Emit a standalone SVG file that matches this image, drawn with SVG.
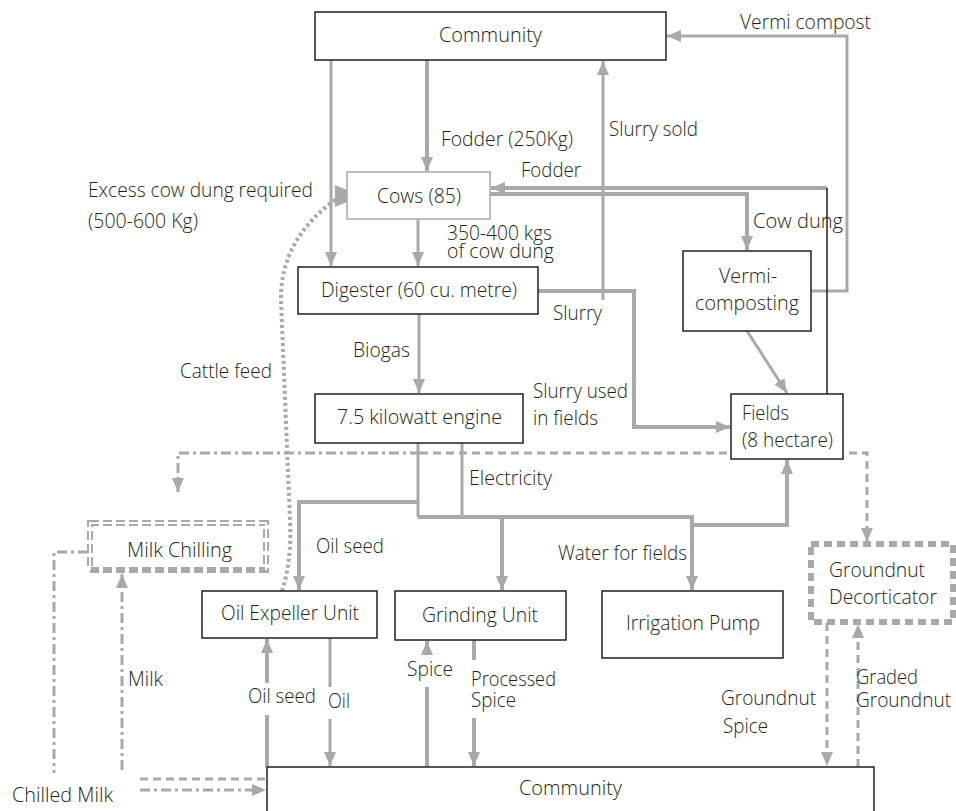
<svg xmlns="http://www.w3.org/2000/svg" width="956" height="811" viewBox="0 0 956 811">
<style>
.t{font-family:"Open Sans","Noto Sans","Liberation Sans",sans-serif;font-size:20px;font-weight:300;fill:#231f20}
.box{fill:#fff;stroke:#231f20;stroke-width:1.5}
.ln{fill:none;stroke:#a7a9ac;stroke-width:3}
.th{stroke-width:4}
.dd{stroke-dasharray:10,4,3,4}
.ds{stroke-dasharray:8,5}
.dt{stroke-dasharray:3,3;stroke-width:4}
</style>
<defs>
<marker id="ah" viewBox="0 0 14 12" refX="14" refY="6" markerWidth="14" markerHeight="12" markerUnits="userSpaceOnUse" orient="auto">
<path d="M0,0 L14,6 L0,12 z" fill="#a7a9ac"/>
</marker>
</defs>
<rect width="956" height="811" fill="#fff"/>
<g id="connectors">
<path class="ln" d="M331,60 V266" marker-end="url(#ah)"/>
<path class="ln th" d="M427,60 V171" marker-end="url(#ah)"/>
<path class="ln" d="M418,219 V266" marker-end="url(#ah)"/>
<path class="ln" d="M603,300 V61" marker-end="url(#ah)"/>
<path class="ln" d="M811,291 H847 V36 H667" marker-end="url(#ah)"/>
<path class="ln th" d="M827,188 H491" marker-end="url(#ah)"/>
<path d="M827,188 V394" fill="none" stroke="#231f20" stroke-width="1.5"/>
<path class="ln th" d="M490,194 H747 V250" marker-end="url(#ah)"/>
<path class="ln th" d="M538,291 H634 V427 H730" marker-end="url(#ah)"/>
<path class="ln" d="M747,331 L787,393" marker-end="url(#ah)"/>
<path class="ln" d="M419,314 V393" marker-end="url(#ah)"/>
<path class="ln dd" d="M420,453 H178 V492" marker-end="url(#ah)"/>
<path class="ln ds" d="M420,453 H867 V542" marker-end="url(#ah)"/>
<path class="ln" d="M418,443 V517 M462,443 V517"/>
<path class="ln th" d="M418,502 H299 V590" marker-end="url(#ah)"/>
<path class="ln th" d="M418,517 H692 V590" marker-end="url(#ah)"/>
<path class="ln th" d="M502,517 V590" marker-end="url(#ah)"/>
<path class="ln th" d="M692,525 H787 V460" marker-end="url(#ah)"/>
<path class="ln dt" d="M282,591 Q292,560 290,520 L281,300 Q280,240 336,199"/>
<polygon points="335,185 362,196 335,207" fill="#a7a9ac"/>
<path class="ln ds" d="M827,623 V766" marker-end="url(#ah)"/>
<path class="ln ds" d="M858,767 V624" marker-end="url(#ah)"/>
<path class="ln th" d="M267,767 V715 M267,683 V639" marker-end="url(#ah)"/>
<path class="ln" d="M330,638 V687 M330,719 V766" marker-end="url(#ah)"/>
<path class="ln th" d="M427,767 V687 M427,653 V641" marker-end="url(#ah)"/>
<path class="ln th" d="M474,640 V660 M474,718 V766" marker-end="url(#ah)"/>
<path class="ln dd" d="M122,770 V574" marker-end="url(#ah)"/>
<path class="ln dd" d="M88,552 H54 V773"/>
<path class="ln ds" d="M140,779 H267"/>
<path class="ln dd" d="M140,790 H266" marker-end="url(#ah)"/>
</g>
<g id="community-top"><rect class="box" x="315" y="12" width="351" height="48"/><text class="t" x="439" y="42" textLength="103" lengthAdjust="spacingAndGlyphs">Community</text></g>
<g id="cows"><rect x="347" y="172" width="143" height="47" fill="#fff" stroke="#a7a9ac" stroke-width="1.5"/><text class="t" x="377" y="203" textLength="84" lengthAdjust="spacingAndGlyphs">Cows (85)</text></g>
<g id="digester"><rect class="box" x="298" y="267" width="240" height="47"/><text class="t" x="321" y="297" textLength="196" lengthAdjust="spacingAndGlyphs">Digester (60 cu. metre)</text></g>
<g id="vermicomposting"><rect class="box" x="683" y="251" width="128" height="80"/><text class="t" x="719" y="283" textLength="58" lengthAdjust="spacingAndGlyphs">Vermi-</text><text class="t" x="695" y="310" textLength="104" lengthAdjust="spacingAndGlyphs">composting</text></g>
<g id="engine"><rect class="box" x="315" y="394" width="208" height="49"/><text class="t" x="337" y="424" textLength="165" lengthAdjust="spacingAndGlyphs">7.5 kilowatt engine</text></g>
<g id="fields"><rect class="box" x="731" y="394" width="112" height="65"/><text class="t" x="742" y="420" textLength="47" lengthAdjust="spacingAndGlyphs">Fields</text><text class="t" x="742" y="447" textLength="91" lengthAdjust="spacingAndGlyphs">(8 hectare)</text></g>
<g id="milk-chilling"><rect x="90" y="523" width="176" height="47" fill="#fff" stroke="#a7a9ac" stroke-width="6" stroke-dasharray="9,4"/><path d="M90,570 V523 H266 V570" fill="none" stroke="#fff" stroke-width="2"/><text class="t" x="127" y="557" textLength="105" lengthAdjust="spacingAndGlyphs">Milk Chilling</text></g>
<g id="oil-expeller"><rect class="box" x="202" y="591" width="175" height="47"/><text class="t" x="221" y="620" textLength="138" lengthAdjust="spacingAndGlyphs">Oil Expeller Unit</text></g>
<g id="grinding"><rect class="box" x="395" y="591" width="171" height="49"/><text class="t" x="422" y="622" textLength="116" lengthAdjust="spacingAndGlyphs">Grinding Unit</text></g>
<g id="irrigation"><rect class="box" x="602" y="591" width="181" height="67"/><text class="t" x="626" y="630" textLength="134" lengthAdjust="spacingAndGlyphs">Irrigation Pump</text></g>
<g id="decorticator"><rect x="811" y="544" width="142" height="78" fill="#fff" stroke="#a7a9ac" stroke-width="6" stroke-dasharray="8,5"/><text class="t" x="829" y="577" textLength="96" lengthAdjust="spacingAndGlyphs">Groundnut</text><text class="t" x="829" y="604" textLength="108" lengthAdjust="spacingAndGlyphs">Decorticator</text></g>
<g id="community-bottom"><rect class="box" x="267" y="767" width="607" height="60"/><text class="t" x="519" y="795" textLength="103" lengthAdjust="spacingAndGlyphs">Community</text></g>
<g id="labels">
<text class="t" x="740" y="29" textLength="131" lengthAdjust="spacingAndGlyphs">Vermi compost</text>
<text class="t" x="441" y="146" textLength="132" lengthAdjust="spacingAndGlyphs">Fodder (250Kg)</text>
<text class="t" x="609" y="136" textLength="89" lengthAdjust="spacingAndGlyphs">Slurry sold</text>
<text class="t" x="521" y="177" textLength="60" lengthAdjust="spacingAndGlyphs">Fodder</text>
<text class="t" x="88" y="197" textLength="225" lengthAdjust="spacingAndGlyphs">Excess cow dung required</text>
<text class="t" x="88" y="228" textLength="110" lengthAdjust="spacingAndGlyphs">(500-600 Kg)</text>
<text class="t" x="753" y="228" textLength="90" lengthAdjust="spacingAndGlyphs">Cow dung</text>
<text class="t" x="447" y="240" textLength="105" lengthAdjust="spacingAndGlyphs">350-400 kgs</text>
<text class="t" x="447" y="258" textLength="107" lengthAdjust="spacingAndGlyphs">of cow dung</text>
<text class="t" x="553" y="320" textLength="49" lengthAdjust="spacingAndGlyphs">Slurry</text>
<text class="t" x="353" y="357" textLength="57" lengthAdjust="spacingAndGlyphs">Biogas</text>
<text class="t" x="180" y="378" textLength="92" lengthAdjust="spacingAndGlyphs">Cattle feed</text>
<text class="t" x="533" y="398" textLength="95" lengthAdjust="spacingAndGlyphs">Slurry used</text>
<text class="t" x="533" y="425" textLength="65" lengthAdjust="spacingAndGlyphs">in fields</text>
<text class="t" x="469" y="485" textLength="83" lengthAdjust="spacingAndGlyphs">Electricity</text>
<text class="t" x="316" y="553" textLength="68" lengthAdjust="spacingAndGlyphs">Oil seed</text>
<text class="t" x="558" y="560" textLength="129" lengthAdjust="spacingAndGlyphs">Water for fields</text>
<text class="t" x="128" y="686" textLength="35" lengthAdjust="spacingAndGlyphs">Milk</text>
<text class="t" x="248" y="703" textLength="68" lengthAdjust="spacingAndGlyphs">Oil seed</text>
<text class="t" x="328" y="708" textLength="22" lengthAdjust="spacingAndGlyphs">Oil</text>
<text class="t" x="407" y="676" textLength="46" lengthAdjust="spacingAndGlyphs">Spice</text>
<text class="t" x="471" y="686" textLength="85" lengthAdjust="spacingAndGlyphs">Processed</text>
<text class="t" x="471" y="707" textLength="45" lengthAdjust="spacingAndGlyphs">Spice</text>
<text class="t" x="721" y="705" textLength="95" lengthAdjust="spacingAndGlyphs">Groundnut</text>
<text class="t" x="723" y="733" textLength="45" lengthAdjust="spacingAndGlyphs">Spice</text>
<text class="t" x="856" y="684" textLength="62" lengthAdjust="spacingAndGlyphs">Graded</text>
<text class="t" x="856" y="707" textLength="95" lengthAdjust="spacingAndGlyphs">Groundnut</text>
<text class="t" x="12" y="802" textLength="101" lengthAdjust="spacingAndGlyphs">Chilled Milk</text>
</g>
</svg>
